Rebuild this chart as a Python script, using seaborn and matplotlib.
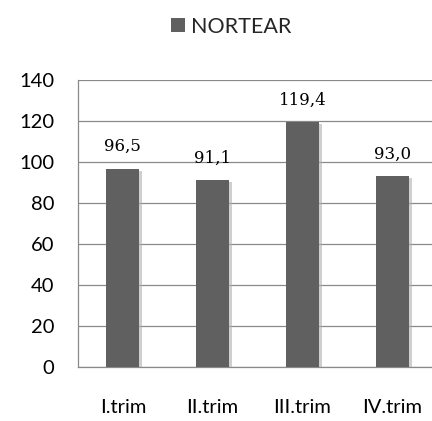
import matplotlib
matplotlib.use("Agg")
import matplotlib.pyplot as plt
import matplotlib.patheffects as pe
from matplotlib.patches import Rectangle
import seaborn as sns
import pandas as pd

categories = ["I.trim", "II.trim", "III.trim", "IV.trim"]
values = [96.5, 91.1, 119.4, 93.0]
value_labels = ["96,5", "91,1", "119,4", "93,0"]
series_name = "NORTEAR"
yticks = [0, 20, 40, 60, 80, 100, 120, 140]

df = pd.DataFrame({"period": categories, "value": values})

sns.set_theme(style="white")
plt.rcParams["font.family"] = ["Lato", "DejaVu Sans"]

fig = plt.figure(figsize=(4.32, 4.21), dpi=100)
ax = fig.add_axes([0.1806, 0.1283, 0.831, 0.6817])

bar_color = "#606060"
sns.barplot(data=df, x="period", y="value", color=bar_color, width=0.37,
            saturation=1, ax=ax, zorder=3)
for patch in ax.patches:
    patch.set_edgecolor("none")
    patch.set_path_effects([pe.SimplePatchShadow(offset=(2, -1), shadow_rgbFace="#b0b0b0", alpha=0.6),
                            pe.Normal()])

ax.set_ylim(0, 140)
ax.set_xlim(-0.5, 3.5)
ax.set_yticks(yticks)
ax.set_yticklabels([str(t) for t in yticks], fontsize=14.5, color="#000000")
ax.tick_params(axis="y", length=0, pad=17)
ax.tick_params(axis="x", length=0, pad=23, labelsize=14.5, labelcolor="#000000")
ax.set_xlabel("")
ax.set_ylabel("")

ax.yaxis.grid(True, color="#8a8a8a", linewidth=0.9, zorder=0)
ax.set_axisbelow(True)
for side in ["top", "right"]:
    ax.spines[side].set_visible(False)
for side in ["left", "bottom"]:
    ax.spines[side].set_color("#8a8a8a")
    ax.spines[side].set_linewidth(0.9)

for i, (v, lab) in enumerate(zip(values, value_labels)):
    ax.annotate(lab, (i, v), xytext=(0, 10), textcoords="offset points",
                ha="center", va="bottom", fontsize=12, color="#000000",
                family=["DejaVu Serif"])

handle = Rectangle((0, 0), 1, 1, facecolor=bar_color, edgecolor="none")
fig.legend([handle], [series_name], loc="center", bbox_to_anchor=(0.535, 0.937),
           frameon=False, fontsize=15.5, handlelength=0.65, handleheight=0.65,
           handletextpad=0.3)

fig.savefig("out.png", dpi=100, facecolor="white")
